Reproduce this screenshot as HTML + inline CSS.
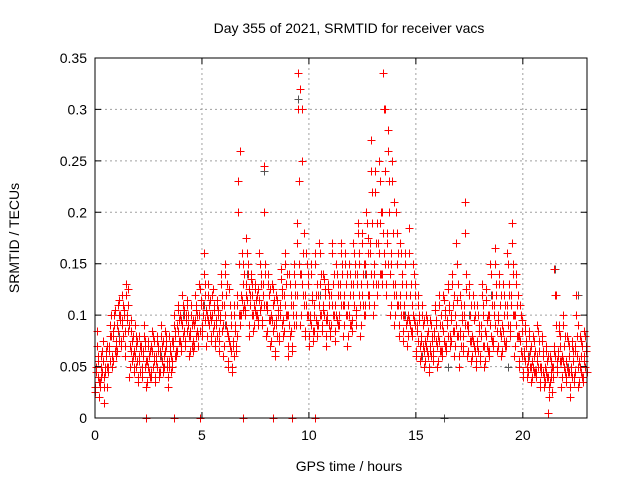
<!DOCTYPE html>
<html><head><meta charset="utf-8"><style>
html,body{margin:0;padding:0;background:#fff}
svg{display:block;font-family:"Liberation Sans",sans-serif}
</style></head><body>
<svg id="chart" width="640" height="480">
<text x="349" y="33" text-anchor="middle" font-size="14">Day 355 of 2021, SRMTID for receiver vacs</text>
<text x="349" y="471" text-anchor="middle" font-size="14">GPS time / hours</text>
<text transform="translate(19,238) rotate(-90)" text-anchor="middle" font-size="14">SRMTID / TECUs</text>
<g id="grid"></g><g id="gray"></g><g id="red"></g><g id="axes"></g>
</svg>
<script>
const hours=[0.0,0.2,0.4,0.6,0.8,1.0,1.2,1.4,1.6,1.8,2.0,2.2,2.4,2.6,2.8,3.0,3.2,3.4,3.6,3.8,4.0,4.2,4.4,4.6,4.8,5.0,5.2,5.4,5.6,5.8,6.0,6.2,6.4,6.6,6.8,7.0,7.2,7.4,7.6,7.8,8.0,8.2,8.4,8.6,8.8,9.0,9.2,9.4,9.6,9.8,10.0,10.2,10.4,10.6,10.8,11.0,11.2,11.4,11.6,11.8,12.0,12.2,12.4,12.6,12.8,13.0,13.2,13.4,13.6,13.8,14.0,14.2,14.4,14.6,14.8,15.0,15.2,15.4,15.6,15.8,16.0,16.2,16.4,16.6,16.8,17.0,17.2,17.4,17.6,17.8,18.0,18.2,18.4,18.6,18.8,19.0,19.2,19.4,19.6,19.8,20.0,20.2,20.4,20.6,20.8,21.0,21.2,21.4,21.6,21.8,22.0,22.2,22.4,22.6,22.8];
const srmtid=[
[.03,.05,.085,.04,.06],[.02,.035,.06,.045,.075],[.015,.04,.05,.065,.03],[.045,.07,.09,.055,.08],[.05,.085,.1,.065,.075],
[.06,.09,.11,.075,.1],[.07,.095,.12,.08,.105],[.06,.13,.1,.085,.125],[.04,.07,.095,.055,.08],[.045,.065,.09,.05,.075],
[.035,.06,.08,.045,.07],[.04,.065,.09,.05,.075],[.03,.055,.075,.045,.065],[.04,.07,.085,.05,.06],[.035,.06,.08,.05,.07],
[.04,.065,.09,.055,.075],[.045,.06,.085,.07,.05],[.03,.055,.08,.065,.045],[.05,.07,.1,.06,.085],[.06,.09,.11,.075,.1],
[.065,.095,.12,.08,.105],[.07,.1,.115,.085,.09],[.06,.08,.11,.07,.095],[.065,.09,.12,.08,.1],[.07,.1,.13,.085,.11],
[.08,.11,.16,.095,.12],[.07,.1,.13,.09,.115],[.075,.095,.12,.085,.11],[.07,.09,.115,.08,.1],[.065,.1,.14,.085,.12],
[.06,.11,.15,.09,.13],[.05,.08,.125,.07,.1],[.045,.075,.11,.06,.09],[.07,.12,.2,.1,.26],[.09,.12,.16,.105,.14],
[.1,.13,.175,.115,.15],[.08,.12,.14,.1,.13],[.085,.11,.13,.1,.12],[.09,.125,.16,.105,.14],[.09,.13,.245,.11,.15],
[.08,.11,.14,.095,.125],[.07,.1,.13,.085,.115],[.06,.095,.12,.08,.105],[.075,.11,.145,.09,.125],[.08,.12,.16,.1,.14],
[.06,.1,.14,.08,.12],[.065,.11,.15,.09,.13],[.1,.19,.335,.15,.32],[.09,.14,.3,.12,.18],[.08,.12,.16,.1,.14],
[.07,.1,.15,.09,.12],[.075,.11,.16,.095,.13],[.08,.12,.17,.1,.14],[.085,.11,.14,.1,.125],[.07,.1,.13,.09,.12],
[.08,.12,.17,.1,.14],[.075,.11,.15,.095,.13],[.09,.13,.17,.11,.15],[.08,.12,.16,.1,.14],[.07,.11,.15,.09,.13],
[.085,.13,.17,.11,.15],[.09,.14,.19,.12,.16],[.08,.13,.18,.11,.15],[.1,.15,.2,.13,.175],[.11,.17,.27,.14,.22],
[.1,.15,.24,.13,.19],[.12,.17,.25,.14,.2],[.13,.2,.335,.16,.3],[.12,.18,.28,.15,.23],[.1,.16,.25,.13,.21],
[.09,.13,.2,.11,.16],[.08,.12,.17,.1,.14],[.075,.11,.16,.09,.13],[.07,.1,.185,.09,.13],[.08,.11,.15,.095,.13],
[.06,.09,.12,.075,.1],[.055,.08,.11,.07,.095],[.05,.075,.1,.065,.085],[.045,.07,.095,.06,.08],[.06,.085,.11,.075,.095],
[.05,.08,.12,.065,.1],[.06,.09,.12,.075,.105],[.065,.095,.13,.08,.11],[.07,.1,.14,.085,.12],[.06,.1,.17,.08,.13],
[.05,.085,.12,.07,.1],[.07,.11,.21,.09,.14],[.06,.09,.13,.075,.11],[.055,.08,.12,.07,.1],[.05,.075,.11,.065,.09],
[.055,.09,.13,.07,.11],[.05,.085,.125,.07,.1],[.06,.1,.15,.08,.12],[.07,.11,.165,.09,.13],[.065,.1,.14,.085,.12],
[.06,.09,.13,.075,.11],[.07,.11,.16,.09,.13],[.08,.12,.19,.1,.15],[.06,.1,.14,.08,.12],[.05,.08,.11,.065,.095],
[.04,.065,.09,.055,.075],[.04,.06,.085,.05,.07],[.035,.055,.08,.045,.065],[.04,.06,.09,.05,.075],[.03,.05,.08,.045,.065],
[.03,.05,.07,.04,.06],[.005,.03,.06,.04,.05],[.04,.07,.145,.06,.12],[.045,.065,.09,.055,.08],[.03,.06,.1,.05,.08],
[.035,.055,.08,.045,.07],[.02,.05,.075,.04,.065],[.04,.07,.12,.06,.09],[.03,.055,.08,.045,.07],[.035,.06,.085,.05,.07]];
const srmtidB=[
[.025,.045,.07,.055,.035],[.03,.05,.04,.065,.055],[.03,.045,.06,.07,.05],[.05,.065,.08,.1,.06],[.055,.08,.09,.105,.07],
[.065,.085,.1,.115,.095],[.075,.09,.11,.1,.085],[.07,.12,.095,.11,.09],[.05,.065,.085,.075,.06],[.05,.06,.08,.07,.055],
[.04,.055,.07,.065,.05],[.045,.06,.08,.07,.055],[.035,.05,.07,.06,.04],[.045,.065,.08,.075,.055],[.04,.055,.075,.065,.045],
[.045,.06,.08,.07,.05],[.05,.065,.08,.075,.055],[.04,.05,.07,.06,.075],[.055,.075,.09,.08,.065],[.065,.085,.105,.095,.075],
[.07,.09,.11,.1,.085],[.075,.095,.11,.1,.08],[.065,.085,.1,.09,.075],[.07,.095,.11,.105,.085],[.08,.1,.125,.115,.09],
[.085,.1,.14,.13,.105],[.08,.095,.12,.11,.1],[.08,.1,.125,.105,.09],[.075,.095,.11,.105,.085],[.075,.095,.13,.11,.09],
[.07,.1,.14,.12,.085],[.055,.075,.11,.09,.065],[.05,.07,.1,.085,.065],[.08,.11,.23,.15,.1],[.1,.115,.15,.13,.11],
[.105,.12,.16,.14,.125],[.09,.11,.135,.12,.1],[.09,.105,.125,.115,.1],[.095,.115,.15,.13,.11],[.095,.12,.2,.14,.11],
[.085,.105,.13,.12,.095],[.075,.095,.125,.11,.09],[.065,.09,.115,.1,.08],[.08,.1,.135,.12,.095],[.085,.11,.15,.13,.1],
[.07,.09,.13,.11,.085],[.07,.1,.14,.12,.09],[.12,.17,.3,.23,.14],[.1,.13,.25,.16,.11],[.085,.11,.15,.13,.1],
[.08,.095,.14,.115,.085],[.085,.1,.15,.12,.09],[.09,.11,.16,.13,.1],[.09,.105,.135,.12,.095],[.08,.095,.125,.11,.085],
[.09,.11,.16,.13,.1],[.085,.1,.14,.12,.09],[.1,.12,.16,.14,.11],[.09,.11,.15,.13,.1],[.08,.1,.14,.12,.09],
[.095,.12,.16,.14,.105],[.1,.13,.18,.15,.11],[.09,.12,.17,.14,.1],[.11,.14,.19,.16,.12],[.12,.16,.24,.19,.13],
[.11,.14,.22,.17,.12],[.13,.16,.23,.19,.14],[.14,.18,.3,.24,.15],[.13,.17,.26,.2,.14],[.11,.15,.23,.18,.12],
[.1,.12,.18,.15,.11],[.09,.11,.16,.13,.1],[.085,.1,.15,.12,.095],[.08,.095,.16,.12,.085],[.085,.1,.14,.12,.09],
[.065,.085,.11,.095,.07],[.06,.075,.1,.09,.065],[.055,.07,.095,.08,.06],[.05,.065,.09,.075,.055],[.065,.08,.105,.09,.07],
[.055,.075,.11,.09,.065],[.065,.085,.115,.1,.07],[.07,.09,.125,.105,.08],[.075,.095,.13,.11,.085],[.07,.09,.15,.115,.08],
[.06,.08,.11,.095,.065],[.08,.1,.18,.125,.09],[.065,.085,.12,.1,.075],[.06,.075,.11,.095,.065],[.055,.07,.1,.085,.06],
[.06,.08,.12,.1,.07],[.055,.08,.115,.095,.065],[.065,.09,.14,.11,.075],[.075,.1,.15,.12,.085],[.07,.095,.13,.11,.08],
[.065,.085,.12,.1,.07],[.075,.1,.15,.12,.085],[.09,.11,.17,.14,.1],[.07,.09,.13,.11,.08],[.055,.075,.1,.085,.06],
[.045,.06,.085,.07,.05],[.045,.055,.08,.065,.05],[.04,.05,.075,.06,.045],[.045,.055,.085,.065,.05],[.035,.045,.075,.06,.04],
[.035,.045,.065,.055,.04],[.02,.035,.055,.045,.025],[.05,.065,.12,.09,.055],[.05,.06,.085,.07,.055],[.04,.055,.09,.07,.045],
[.04,.05,.075,.06,.045],[.03,.045,.07,.055,.035],[.045,.065,.1,.08,.05],[.035,.05,.075,.06,.04],[.04,.055,.08,.065,.045]];
const grayHours=[0.3,1.1,2.1,3.1,4.1,5.1,6.1,7.1,7.9,8.9,9.5,10.5,11.5,12.6,12.9,13.7,14.5,15.3,16.5,17.5,18.5,19.3,20.3,21.5,22.1,22.6];
const grayValues=[.05,.08,.07,.06,.1,.11,.09,.14,.24,.11,.31,.12,.11,.14,.27,.26,.1,.06,.05,.1,.12,.05,.06,.145,.05,.12];
const zeroHours=[2.4,3.7,4.9,6.9,8.3,9.2,10.3];
const grayZeroHours=[16.3];
const xTicks=[0,5,10,15,20];
const yTicks=[0,0.05,0.1,0.15,0.2,0.25,0.3,0.35];
const yTickLabels=["0","0.05","0.1","0.15","0.2","0.25","0.3","0.35"];

const L=95,R=587,T=58,B=418,XMAX=23,YMAX=0.35;
const sx=h=>L+h/XMAX*(R-L);
const sy=v=>B-v/YMAX*(B-T);
const NS="http://www.w3.org/2000/svg";
function mk(tag,attrs,parent){const e=document.createElementNS(NS,tag);for(const k in attrs)e.setAttribute(k,attrs[k]);parent.appendChild(e);return e;}
const grid=document.getElementById('grid'),axes=document.getElementById('axes');
xTicks.forEach(t=>{
  const x=sx(t);
  if(t>0){const g=mk('line',{x1:x,x2:x,y1:T,y2:B,stroke:'#a0a0a0','stroke-dasharray':'2,3'},grid);
  
  }
  const tk=mk('path',{d:`M${x},${B}v-6M${x},${T}v6`,stroke:'#000'},axes);
  
  
  const lb=mk('text',{x:x,y:B+22,'text-anchor':'middle','font-size':14},axes);lb.textContent=t;
  
  
});
yTicks.forEach((t,i)=>{
  const y=sy(t);
  if(t>0&&t<YMAX){const g=mk('line',{x1:L,x2:R,y1:y,y2:y,stroke:'#a0a0a0','stroke-dasharray':'2,3'},grid);
  
  }
  const tk=mk('path',{d:`M${L},${y}h6M${R},${y}h-6`,stroke:'#000'},axes);
  
  
  const lb=mk('text',{x:L-8,y:y+5,'text-anchor':'end','font-size':14},axes);lb.textContent=yTickLabels[i];
  
  
});
const fr=mk('rect',{x:L,y:T,width:R-L,height:B-T,fill:'none',stroke:'#000'},axes);


function plus(h,v,color,parent){
  const x=Math.round(sx(h))+0.5,y=Math.round(sy(v))+0.5;
  const p=mk('path',{d:`M${x-4},${y}h8M${x},${y-4}v8`,stroke:color,'stroke-width':1},parent);
  
  
}
const gG=document.getElementById('gray'),gR=document.getElementById('red');
grayHours.forEach((h,i)=>plus(h,grayValues[i],'#555',gG));
grayZeroHours.forEach(h=>plus(h,0,'#555',gG));
hours.forEach((h,i)=>srmtid[i].forEach((v,j)=>plus(h+j*0.04,v,'#f00',gR)));
hours.forEach((h,i)=>srmtidB[i].forEach((v,j)=>plus(h+0.02+j*0.04,v,'#f00',gR)));
zeroHours.forEach(h=>plus(h,0,'#f00',gR));
</script>
</body></html>
